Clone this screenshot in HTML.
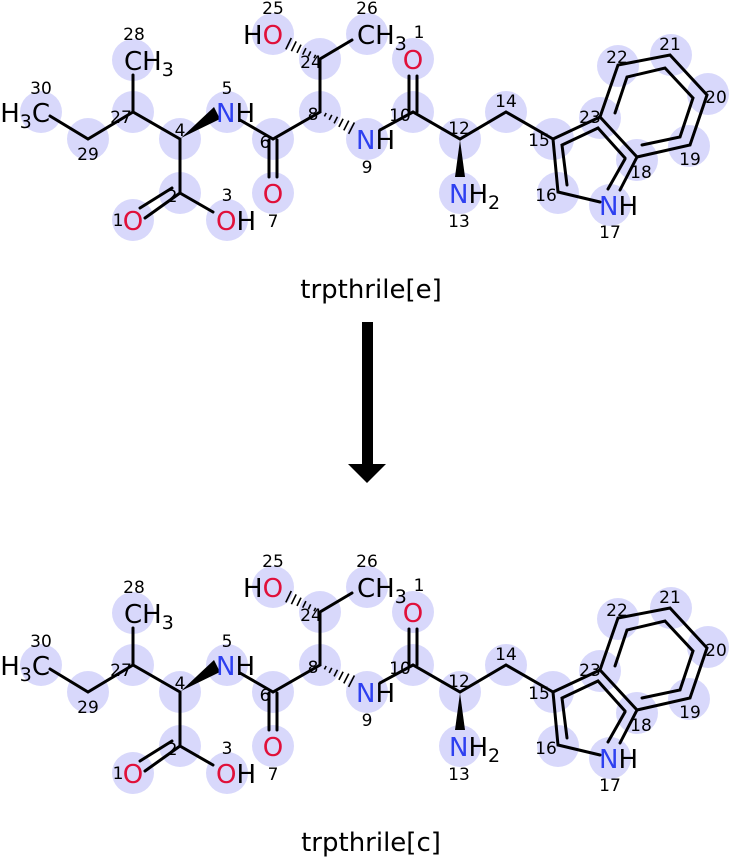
<!DOCTYPE html>
<html><head><meta charset="utf-8"><style>
html,body{margin:0;padding:0;background:#fff;}
svg{display:block;}
text{font-family:"DejaVu Sans","Liberation Sans",sans-serif;}
.a{font-size:26px;}
.n{font-size:17px;fill:#000;text-anchor:middle;}
.O{fill:#e0103a;}
.N{fill:#2e40f0;}
.k{fill:#000;}
</style></head><body>
<svg width="731" height="858" viewBox="0 0 731 858" xmlns="http://www.w3.org/2000/svg">
<g id="m1">
<g fill="#d8d8fb">
<circle cx="41" cy="112" r="21"/><circle cx="88" cy="139" r="21"/><circle cx="133" cy="112" r="21"/><circle cx="133" cy="60" r="21"/>
<circle cx="180" cy="139" r="21"/><circle cx="227" cy="112" r="21"/><circle cx="273" cy="139" r="21"/><circle cx="273" cy="193" r="21"/>
<circle cx="180" cy="193" r="21"/><circle cx="133" cy="220" r="21"/><circle cx="227" cy="220" r="21"/><circle cx="320" cy="112" r="21"/>
<circle cx="320" cy="59" r="21"/><circle cx="273" cy="34" r="21"/><circle cx="367" cy="34" r="21"/><circle cx="367" cy="139" r="21"/>
<circle cx="413" cy="112" r="21"/><circle cx="413" cy="59" r="21"/><circle cx="460" cy="139" r="21"/><circle cx="460" cy="193" r="21"/>
<circle cx="506" cy="112" r="21"/><circle cx="553" cy="139" r="21"/><circle cx="558" cy="193" r="21"/><circle cx="610" cy="205" r="21"/>
<circle cx="637" cy="160" r="21"/><circle cx="689" cy="146" r="21"/><circle cx="708" cy="94" r="21"/><circle cx="671" cy="55" r="21"/>
<circle cx="618" cy="66" r="21"/><circle cx="600" cy="118" r="21"/>
</g>
<g stroke="#000" stroke-width="3" fill="none" stroke-linecap="round">
<path d="M50 116L88 139L133 112L180 139M133 112L133 75M180 139L180 193L213 212M180 193L145 218M172 188L140 208M240 120L273 139L320 112L320 59L352 40M269 140L269 177M277 140L277 177M380 130L413 112L460 139L506 112L553 139M409 112L409 76M417 112L417 76"/>
<path d="M553 139L558 192L600 202M620 190L637 157L600 117L553 139M600 117L618 65L670 55L707 95L690 145L637 157"/>
<path d="M567 185L562 145L598 128L625 158M608 189L625 159M642 145L680 137L693 98L665 68L627 77L615 113"/>
</g>
<g stroke="#000" stroke-width="1.6">
<path d="M324.4 116.4L326.2 113M329.2 119.9L331.8 114.9M334.1 123.4L337.5 116.8M338.9 126.9L343.1 118.7M343.8 130.4L348.8 120.6M348.6 133.9L354.4 122.5"/>
<path d="M315.6 54.8L314 58.2M310.7 51.4L308.3 56.4M305.9 48.1L302.7 54.7M301 44.7L297 52.9M296.2 41.4L291.4 51.2M291.3 38L285.8 49.4"/>
</g>
<polygon points="181,138 214,107 220,119" fill="#000"/>
<polygon points="460,140 455,177 465,177" fill="#000"/>
<g class="a">
<text x="50" y="122" text-anchor="end" class="k">H<tspan font-size="19" dy="6">3</tspan><tspan dy="-6">C</tspan></text>
<text x="124" y="70" class="k">CH<tspan font-size="19" dy="6">3</tspan></text>
<text x="216" y="122"><tspan class="N">N</tspan><tspan class="k">H</tspan></text>
<text x="273" y="203" text-anchor="middle" class="O">O</text>
<text x="133" y="230" text-anchor="middle" class="O">O</text>
<text x="216" y="230"><tspan class="O">O</tspan><tspan class="k">H</tspan></text>
<text x="243" y="44"><tspan class="k">H</tspan><tspan class="O">O</tspan></text>
<text x="357" y="44" class="k">CH<tspan font-size="19" dy="6">3</tspan></text>
<text x="356" y="149"><tspan class="N">N</tspan><tspan class="k">H</tspan></text>
<text x="413" y="69" text-anchor="middle" class="O">O</text>
<text x="449" y="203"><tspan class="N">N</tspan><tspan class="k">H</tspan><tspan class="k" font-size="19" dy="6">2</tspan></text>
<text x="599" y="215"><tspan class="N">N</tspan><tspan class="k">H</tspan></text>
</g>
<g class="n">
<text x="41" y="94">30</text><text x="88" y="160">29</text><text x="121" y="123">27</text><text x="134" y="40">28</text>
<text x="180" y="136">4</text><text x="227" y="94">5</text><text x="265" y="148">6</text><text x="273" y="227">7</text>
<text x="172" y="202">2</text><text x="118" y="226">1</text><text x="227" y="201">3</text><text x="313" y="120">8</text>
<text x="311" y="68">24</text><text x="273" y="14">25</text><text x="367" y="14">26</text><text x="367" y="173">9</text>
<text x="400" y="121">10</text><text x="419" y="38">1</text><text x="459" y="134">12</text><text x="459" y="227">13</text>
<text x="506" y="107">14</text><text x="539" y="146">15</text><text x="546" y="201">16</text><text x="610" y="238">17</text>
<text x="641" y="178">18</text><text x="690" y="165">19</text><text x="716" y="103">20</text><text x="670" y="50">21</text>
<text x="617" y="63">22</text><text x="590" y="123">23</text>
</g>
<text x="371" y="298" text-anchor="middle" font-size="26" class="k">trpthrile[e]</text>
</g>

<g transform="translate(0,553)">
<g fill="#d8d8fb">
<circle cx="41" cy="112" r="21"/><circle cx="88" cy="139" r="21"/><circle cx="133" cy="112" r="21"/><circle cx="133" cy="60" r="21"/>
<circle cx="180" cy="139" r="21"/><circle cx="227" cy="112" r="21"/><circle cx="273" cy="139" r="21"/><circle cx="273" cy="193" r="21"/>
<circle cx="180" cy="193" r="21"/><circle cx="133" cy="220" r="21"/><circle cx="227" cy="220" r="21"/><circle cx="320" cy="112" r="21"/>
<circle cx="320" cy="59" r="21"/><circle cx="273" cy="34" r="21"/><circle cx="367" cy="34" r="21"/><circle cx="367" cy="139" r="21"/>
<circle cx="413" cy="112" r="21"/><circle cx="413" cy="59" r="21"/><circle cx="460" cy="139" r="21"/><circle cx="460" cy="193" r="21"/>
<circle cx="506" cy="112" r="21"/><circle cx="553" cy="139" r="21"/><circle cx="558" cy="193" r="21"/><circle cx="610" cy="205" r="21"/>
<circle cx="637" cy="160" r="21"/><circle cx="689" cy="146" r="21"/><circle cx="708" cy="94" r="21"/><circle cx="671" cy="55" r="21"/>
<circle cx="618" cy="66" r="21"/><circle cx="600" cy="118" r="21"/>
</g>
<g stroke="#000" stroke-width="3" fill="none" stroke-linecap="round">
<path d="M50 116L88 139L133 112L180 139M133 112L133 75M180 139L180 193L213 212M180 193L145 218M172 188L140 208M240 120L273 139L320 112L320 59L352 40M269 140L269 177M277 140L277 177M380 130L413 112L460 139L506 112L553 139M409 112L409 76M417 112L417 76"/>
<path d="M553 139L558 192L600 202M620 190L637 157L600 117L553 139M600 117L618 65L670 55L707 95L690 145L637 157"/>
<path d="M567 185L562 145L598 128L625 158M608 189L625 159M642 145L680 137L693 98L665 68L627 77L615 113"/>
</g>
<g stroke="#000" stroke-width="1.6">
<path d="M324.4 116.4L326.2 113M329.2 119.9L331.8 114.9M334.1 123.4L337.5 116.8M338.9 126.9L343.1 118.7M343.8 130.4L348.8 120.6M348.6 133.9L354.4 122.5"/>
<path d="M315.6 54.8L314 58.2M310.7 51.4L308.3 56.4M305.9 48.1L302.7 54.7M301 44.7L297 52.9M296.2 41.4L291.4 51.2M291.3 38L285.8 49.4"/>
</g>
<polygon points="181,138 214,107 220,119" fill="#000"/>
<polygon points="460,140 455,177 465,177" fill="#000"/>
<g class="a">
<text x="50" y="122" text-anchor="end" class="k">H<tspan font-size="19" dy="6">3</tspan><tspan dy="-6">C</tspan></text>
<text x="124" y="70" class="k">CH<tspan font-size="19" dy="6">3</tspan></text>
<text x="216" y="122"><tspan class="N">N</tspan><tspan class="k">H</tspan></text>
<text x="273" y="203" text-anchor="middle" class="O">O</text>
<text x="133" y="230" text-anchor="middle" class="O">O</text>
<text x="216" y="230"><tspan class="O">O</tspan><tspan class="k">H</tspan></text>
<text x="243" y="44"><tspan class="k">H</tspan><tspan class="O">O</tspan></text>
<text x="357" y="44" class="k">CH<tspan font-size="19" dy="6">3</tspan></text>
<text x="356" y="149"><tspan class="N">N</tspan><tspan class="k">H</tspan></text>
<text x="413" y="69" text-anchor="middle" class="O">O</text>
<text x="449" y="203"><tspan class="N">N</tspan><tspan class="k">H</tspan><tspan class="k" font-size="19" dy="6">2</tspan></text>
<text x="599" y="215"><tspan class="N">N</tspan><tspan class="k">H</tspan></text>
</g>
<g class="n">
<text x="41" y="94">30</text><text x="88" y="160">29</text><text x="121" y="123">27</text><text x="134" y="40">28</text>
<text x="180" y="136">4</text><text x="227" y="94">5</text><text x="265" y="148">6</text><text x="273" y="227">7</text>
<text x="172" y="202">2</text><text x="118" y="226">1</text><text x="227" y="201">3</text><text x="313" y="120">8</text>
<text x="311" y="68">24</text><text x="273" y="14">25</text><text x="367" y="14">26</text><text x="367" y="173">9</text>
<text x="400" y="121">10</text><text x="419" y="38">1</text><text x="459" y="134">12</text><text x="459" y="227">13</text>
<text x="506" y="107">14</text><text x="539" y="146">15</text><text x="546" y="201">16</text><text x="610" y="238">17</text>
<text x="641" y="178">18</text><text x="690" y="165">19</text><text x="716" y="103">20</text><text x="670" y="50">21</text>
<text x="617" y="63">22</text><text x="590" y="123">23</text>
</g>
<text x="371" y="298" text-anchor="middle" font-size="26" class="k">trpthrile[c]</text>
</g>

<rect x="362" y="322" width="11" height="145" fill="#000"/>
<polygon points="348,464 386,464 367,483" fill="#000"/>
</svg>
</body></html>
